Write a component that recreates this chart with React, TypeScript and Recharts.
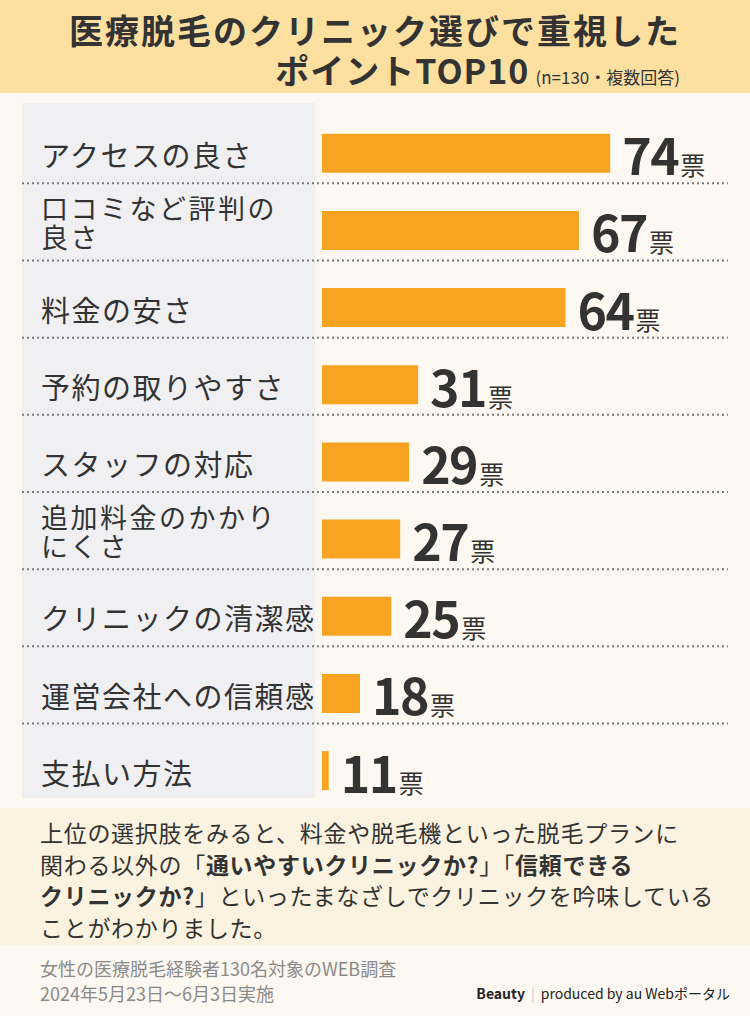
import React from "react";
import { BarChart, Bar, XAxis, YAxis, LabelList } from "recharts";

const categories = [
  "アクセスの良さ",
  "口コミなど評判の\n良さ",
  "料金の安さ",
  "予約の取りやすさ",
  "スタッフの対応",
  "追加料金のかかり\nにくさ",
  "クリニックの清潔感",
  "運営会社への信頼感",
  "支払い方法",
];
const votes = [74, 67, 64, 31, 29, 27, 25, 18, 11];
const unit = "票";
const titleLine1 = "医療脱毛のクリニック選びで重視した";
const titleLine2 = "ポイントTOP10";
const titleNote = "(n=130・複数回答)";
const footnote1 = "女性の医療脱毛経験者130名対象のWEB調査";
const footnote2 = "2024年5月23日～6月3日実施";

const data = categories.map((name, i) => ({ name, votes: votes[i] }));

const JP = '"Noto Sans CJK JP", "Noto Sans", sans-serif';
const TEXT = "#333333";

const CategoryTick = (props: any) => {
  const { y, payload, index } = props;
  const lines = String(payload.value).split("\n");
  const isLast = index === categories.length - 1;
  return (
    <g>
      {lines.length === 1 ? (
        <text x={41} y={y + 14} fontSize={29} fill={TEXT} fontFamily={JP} letterSpacing={1.5}>
          {lines[0]}
        </text>
      ) : (
        <text fontSize={27} fill={TEXT} fontFamily={JP} letterSpacing={2.5}>
          <tspan x={41} y={y - 11}>{lines[0]}</tspan>
          <tspan x={41} y={y + 18}>{lines[1]}</tspan>
        </text>
      )}
      {!isLast && (
        <line x1={22} x2={728} y1={y + 30} y2={y + 30} stroke="#7a7a7a" strokeWidth={2} strokeDasharray="2 3" />
      )}
    </g>
  );
};

const ValueLabel = (props: any) => {
  const { x, y, width, height, value } = props;
  return (
    <text x={x + width + 12} y={y + height / 2 + 22} fill={TEXT} fontFamily={JP}>
      <tspan fontSize={50} fontWeight={700} letterSpacing={-1.5}>
        {value}
      </tspan>
      <tspan fontSize={25} dx={2}>
        {unit}
      </tspan>
    </text>
  );
};

export default function App() {
  return (
    <div
      style={{
        position: "absolute",
        left: 0,
        top: 0,
        width: 750,
        height: 1016,
        background: "#FDF8F1",
        fontFamily: JP,
        overflow: "hidden",
      }}
    >
      <div
        style={{
          position: "absolute",
          left: 0,
          top: 0,
          width: 750,
          height: 93,
          background: "#FDDFA0",
        }}
      >
        <div
          style={{
            position: "absolute",
            left: 0,
            width: 750,
            top: 11,
            textAlign: "center",
            fontSize: 34,
            fontWeight: 700,
            letterSpacing: 2,
            color: TEXT,
            lineHeight: "38px",
            whiteSpace: "nowrap",
          }}
        >
          {titleLine1}
        </div>
        <div
          style={{
            position: "absolute",
            right: 70,
            top: 51,
            color: TEXT,
            whiteSpace: "nowrap",
            lineHeight: "38px",
          }}
        >
          <span style={{ fontSize: 34, fontWeight: 700, letterSpacing: 1 }}>{titleLine2}</span>
          <span style={{ fontSize: 17, marginLeft: 6 }}>{titleNote}</span>
        </div>
      </div>

      <div
        style={{
          position: "absolute",
          left: 22,
          top: 103,
          width: 293,
          height: 695,
          background: "#F0F0F2",
        }}
      />

      <div
        style={{
          position: "absolute",
          left: 0,
          top: 808,
          width: 750,
          height: 137,
          background: "#FBF3DF",
        }}
      >
        <div
          style={{
            position: "absolute",
            left: 40,
            top: 9,
            fontSize: 23,
            lineHeight: "31.5px",
            letterSpacing: 0.7,
            color: TEXT,
            whiteSpace: "nowrap",
          }}
        >
          上位の選択肢をみると、料金や脱毛機といった脱毛プランに
          <br />
          関わる以外の「<b>通いやすいクリニックか?</b>」「<b>信頼できる</b>
          <br />
          <b>クリニックか?</b>」といったまなざしでクリニックを吟味している
          <br />
          ことがわかりました。
        </div>
      </div>

      <div
        style={{
          position: "absolute",
          left: 40,
          top: 956,
          fontSize: 18,
          lineHeight: "25px",
          color: "#8a8a8a",
          whiteSpace: "nowrap",
        }}
      >
        {footnote1}
        <br />
        {footnote2}
      </div>
      <div
        style={{
          position: "absolute",
          right: 20,
          top: 983,
          fontSize: 14,
          lineHeight: "20px",
          color: "#222",
          whiteSpace: "nowrap",
        }}
      >
        <span style={{ fontWeight: 700 }}>Beauty</span>
        <span style={{ color: "#ccc", margin: "0 6px" }}>|</span>
        <span>produced by au Webポータル</span>
      </div>

      <div style={{ position: "absolute", left: 0, top: 0 }}>
        <BarChart
          width={750}
          height={1016}
          data={data}
          layout="vertical"
          margin={{ top: 114.7, right: 113, bottom: 206.7, left: 0 }}
        >
          <XAxis type="number" dataKey="votes" domain={[9.5, 80]} allowDataOverflow hide />
          <YAxis
            type="category"
            dataKey="name"
            width={322}
            axisLine={false}
            tickLine={false}
            interval={0}
            tick={<CategoryTick />}
          />
          <Bar dataKey="votes" fill="#F8A422" barSize={39} isAnimationActive={false}>
            <LabelList dataKey="votes" content={<ValueLabel />} />
          </Bar>
        </BarChart>
      </div>
    </div>
  );
}
